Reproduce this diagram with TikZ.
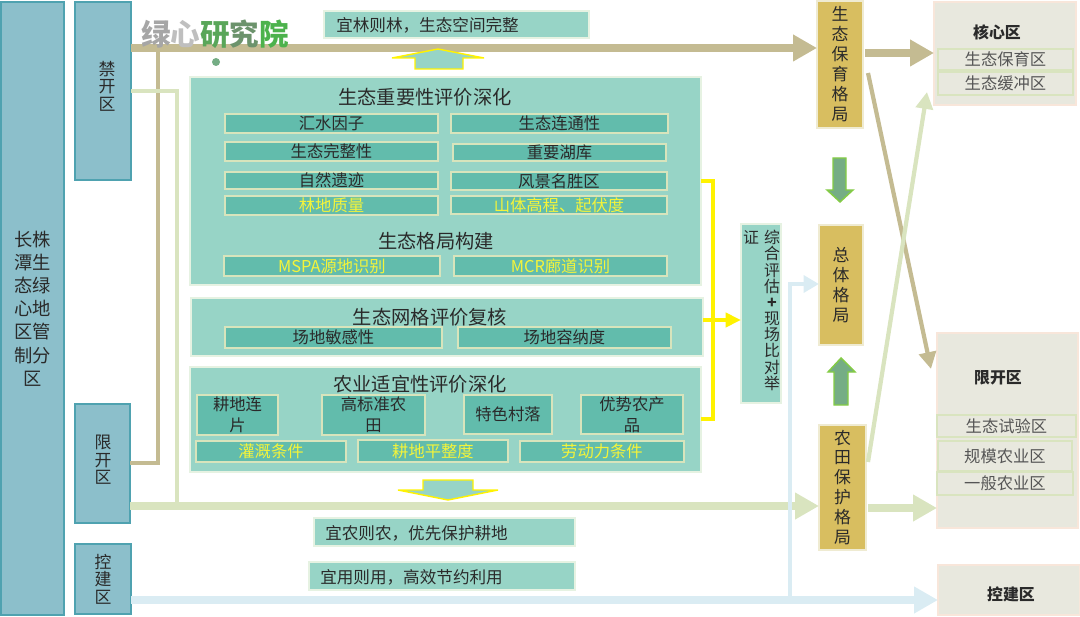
\documentclass[tikz,border=0pt]{standalone}
\usepackage{fontspec}
\setmainfont{Noto Sans CJK SC}
\usetikzlibrary{arrows.meta}
\definecolor{sidefill}{HTML}{8CBFCB}
\definecolor{sideline}{HTML}{4FA2B0}
\definecolor{panelfill}{HTML}{97D4C6}
\definecolor{panelline}{HTML}{E6F2E2}
\definecolor{subfill}{HTML}{62BCAC}
\definecolor{subline}{HTML}{D8E4BC}
\definecolor{goldfill}{HTML}{D8BE60}
\definecolor{goldline}{HTML}{EFEBD2}
\definecolor{zonefill}{HTML}{E8E8DE}
\definecolor{zoneline}{HTML}{F8E6DA}
\definecolor{tanline}{HTML}{C4BB92}
\definecolor{leafline}{HTML}{D9E4BF}
\definecolor{iceline}{HTML}{DAECF3}
\definecolor{darktext}{HTML}{2A2A2A}
\definecolor{yellowtext}{HTML}{F4F43A}
\definecolor{greenfill}{HTML}{75AD85}
\definecolor{greenline}{HTML}{84CC44}
\tikzset{
    wh/.style 2 args={anchor=north west,minimum width=#1*0.025cm,minimum height=#2*0.025cm},
    base/.style={draw,inner sep=0pt,outer sep=0pt,text=darktext,align=center},
    side/.style={base,fill=sidefill,draw=sideline,line width=1pt,font=\fontsize{12}{12.4}\selectfont},
    sidetext/.style={inner sep=0pt,align=center,text=darktext,font=\fontsize{12}{12.4}\selectfont},
    panel/.style={base,fill=panelfill,draw=panelline,line width=.8pt},
    sub/.style={base,fill=subfill,draw=subline,line width=1pt,font=\fontsize{11.6}{15}\selectfont},
    subhot/.style={sub,text=yellowtext},
    gold/.style={base,fill=goldfill,draw=goldline,line width=.8pt,font=\fontsize{12}{14.2}\selectfont},
    zone/.style={base,fill=zonefill,draw=zoneline,line width=.8pt},
    zonesub/.style={base,draw=leafline,line width=1pt,text=darktext!80,font=\fontsize{11.6}{14}\selectfont},
    title/.style={inner sep=0pt,text=darktext,font=\fontsize{13.7}{15}\selectfont},
    zonetitle/.style={inner sep=0pt,text=darktext,font=\fontsize{11.3}{14}\selectfont\bfseries},
    strip/.style={inner sep=0pt,anchor=west,text=darktext,font=\fontsize{11.8}{14}\selectfont},
    tanarrow/.style={draw=tanline,line width=5.7pt,-{Triangle[length=17pt,width=18pt]}},
    leafarrow/.style={draw=leafline,line width=5.7pt,-{Triangle[length=17pt,width=18pt]}},
    icearrow/.style={draw=iceline,line width=5.7pt,-{Triangle[length=17pt,width=18pt]}},
    thinarrow/.style={line width=3pt,-{Triangle[length=11pt,width=10pt]}},
    blockup/.style={draw=yellow,line width=1pt,fill=panelfill},
    blockgreen/.style={draw=greenline,line width=1pt,fill=greenfill},
}
\begin{document}
\begin{tikzpicture}[x=0.025cm,y=-0.025cm]
    \useasboundingbox (0,0) rectangle (1080,617);
    % left column
    \node[side,wh={63}{613},font=\fontsize{13}{16.5}\selectfont] (zoning) at (1,2) {长株\\潭生\\态绿\\心地\\区管\\制分\\区};
    \node[side,wh={56}{178}] (jinkai) at (75,2) {};
    \node[sidetext] (jinkaitext) at (107,86) {禁\\开\\区};
    \node[side,wh={55}{119}] (xiankai) at (75,404) {};
    \node[sidetext] (xiankaitext) at (103,460) {限\\开\\区};
    \node[side,wh={56}{70}] (kongjian) at (75,544) {控\\建\\区};
    % right column
    \node[gold,wh={46}{127}] (baoyu) at (817,1) {生\\态\\保\\育\\格\\局};
    \node[gold,wh={44}{120}] (zongti) at (819,225) {总\\体\\格\\局};
    \node[gold,wh={47}{125}] (nongtian) at (819,425) {农\\田\\保\\护\\格\\局};
    \node[zone,wh={142}{103}] (hexin) at (934,2) {};
    \node[zonetitle] (hexintitle) at (997,32) {核心区};
    \node[zonesub,wh={135}{21}] (hexina) at (938,49) {生态保育区};
    \node[zonesub,wh={135}{23}] (hexinb) at (938,72) {生态缓冲区};
    \node[zone,wh={141}{195}] (xianzone) at (937,333) {};
    \node[zonetitle] (xiantitle) at (998,378) {限开区};
    \node[zonesub,wh={139}{22}] (xiana) at (937,415) {生态试验区};
    \node[zonesub,wh={134}{30}] (xianb) at (938,441) {规模农业区};
    \node[zonesub,wh={136}{23}] (xianc) at (937,472) {一般农业区};
    \node[zone,wh={142}{50}] (kongzone) at (938,565) {};
    \node[zonetitle] (kongtitle) at (1011,594) {控建区};
    % free ends of the connectors
    \coordinate (tanjoin) at (158,48);
    \coordinate (tancorner) at (158,463);
    \coordinate (leafjoin) at (177,506);
    \coordinate (leafcorner) at (177,91);
    \coordinate (iceturn) at (790,600);
    \coordinate (icetop) at (790,284);
    \coordinate (yellowtop) at (713,181);
    \coordinate (yellowlow) at (713,419);
    \coordinate (coreline) at (865,53);
    \coordinate (farmline) at (868,508);
    \coordinate (crossa) at (868,73);
    \coordinate (crossaend) at (931,369);
    \coordinate (crossb) at (868,462);
    \coordinate (crossbend) at (927,92);
    \coordinate (gridline) at (703,320);
    % connectors
    \draw[draw=tanline,line width=3.5pt] (xiankai.east |- tancorner) -- (tancorner) -- (tanjoin);
    \draw[tanarrow] (jinkai.east |- tanjoin) -- (baoyu.west |- tanjoin);
    \draw[draw=leafline,line width=3.5pt] (jinkai.east |- leafcorner) -- (leafcorner) -- (leafjoin);
    \draw[leafarrow] (xiankai.east |- leafjoin) -- (nongtian.west |- leafjoin);
    \draw[icearrow] (kongjian.east |- iceturn) -- (kongzone.west |- iceturn);
    \draw[draw=iceline,line width=3pt,-{Triangle[length=11pt,width=12pt]}] (iceturn) -- (icetop) -- (zongti.west |- icetop);
    \draw[tanarrow] (coreline) -- (hexin.west |- coreline);
    \draw[leafarrow] (farmline) -- (xianzone.west |- farmline);
    \draw[draw=tanline,line width=3pt,-{Triangle[length=12pt,width=12pt]}] (crossa) -- (crossaend);
    \draw[draw=leafline,line width=3pt,-{Triangle[length=12pt,width=12pt]}] (crossb) -- (crossbend);
    % top and bottom strips
    \node[panel,wh={265}{27}] (forest) at (324,11) {};
    \node[strip] (foresttext) at (336,25) {宜林则林，生态空间完整};
    \node[panel,wh={261}{28}] (farm) at (314,518) {};
    \node[strip] (farmtext) at (325,533) {宜农则农，优先保护耕地};
    \node[panel,wh={266}{28}] (land) at (309,562) {};
    \node[strip] (landtext) at (320,577) {宜用则用，高效节约利用};
    % block arrows
    \draw[blockup] (438,49) -- (484,58) -- (463,58) -- (463,69) -- (415,69) -- (415,58) -- (392,58) -- cycle;
    \draw[blockup] (423,480) -- (473,480) -- (473,490) -- (498,490) -- (448,500) -- (398,490) -- (423,490) -- cycle;
    \draw[blockgreen] (833,158) -- (846,158) -- (846,190) -- (853,190) -- (840,202) -- (827,190) -- (833,190) -- cycle;
    \draw[blockgreen] (841,358) -- (855,372) -- (848,372) -- (848,405) -- (834,405) -- (834,372) -- (828,372) -- cycle;
    % ecological panel
    \node[panel,wh={511}{208}] (ecopanel) at (190,77) {};
    \node[title] (ecotitle) at (425,97) {生态重要性评价深化};
    \node[sub,wh={213}{19}] (huishui) at (225,114) {汇水因子};
    \node[sub,wh={217}{19}] (liantong) at (451,114) {生态连通性};
    \node[sub,wh={213}{19}] (wanzheng) at (225,142) {生态完整性};
    \node[sub,wh={213}{17}] (hupo) at (453,144) {重要湖库};
    \node[sub,wh={213}{17}] (yiji) at (225,172) {自然遗迹};
    \node[sub,wh={216}{18}] (fengjing) at (451,172) {风景名胜区};
    \node[subhot,wh={213}{19}] (lindi) at (225,196) {林地质量};
    \node[subhot,wh={216}{18}] (shanti) at (451,196) {山体高程、起伏度};
    \node[title] (patterntitle) at (436,241) {生态格局构建};
    \node[subhot,wh={216}{20}] (mspa) at (224,256) {MSPA源地识别};
    \node[subhot,wh={213}{20}] (mcr) at (454,256) {MCR廊道识别};
    % grid panel
    \node[panel,wh={512}{58}] (gridpanel) at (191,298) {};
    \node[title] (gridtitle) at (430,317) {生态网格评价复核};
    \node[sub,wh={217}{21}] (mingan) at (225,327) {场地敏感性};
    \node[sub,wh={213}{21}] (rongna) at (458,327) {场地容纳度};
    % farming panel
    \node[panel,wh={511}{105}] (farmpanel) at (190,367) {};
    \node[title] (farmtitle) at (420,384) {农业适宜性评价深化};
    \node[sub,wh={81}{40}] (liantan) at (197,395) {耕地连\\片};
    \node[sub,wh={103}{40}] (gaobiao) at (322,395) {高标准农\\田};
    \node[sub,wh={88}{39}] (cunluo) at (464,395) {特色村落};
    \node[sub,wh={102}{39}] (youshi) at (581,395) {优势农产\\品};
    \node[subhot,wh={150}{21}] (guangai) at (196,441) {灌溉条件};
    \node[subhot,wh={150}{22}] (pingzheng) at (358,440) {耕地平整度};
    \node[subhot,wh={164}{21}] (laodong) at (520,441) {劳动力条件};
    % verification box
    \node[panel,wh={40}{179}] (verify) at (741,224) {};
    \node[inner sep=0pt,anchor=north,align=center,text=darktext,font=\fontsize{11.3}{11.5}\selectfont] (verifytext) at (772,230) {综\\合\\评\\估\\\textbf{+}\\现\\场\\比\\对\\举};
    \node[inner sep=0pt,anchor=north,text=darktext,font=\fontsize{11.3}{11.5}\selectfont] (verifyend) at (751,230) {证};
    \draw[draw=yellow,line width=2.5pt] (ecopanel.east |- yellowtop) -- (yellowtop) -- (yellowlow) -- (farmpanel.east |- yellowlow);
    \draw[draw=yellow,thinarrow] (gridline) -- (verify.west |- gridline);
    % logo
    \node[inner sep=0pt,font=\fontsize{21}{21}\selectfont\bfseries] (logo) at (215,34) {\textcolor{gray!70}{绿}\textcolor{gray!50}{心}\textcolor{green!30!gray}{研}\textcolor{green!15!gray}{究}\textcolor{green!40!gray}{院}};
    \fill[greenfill] (216,62) circle[radius=4];
\end{tikzpicture}
\end{document}
